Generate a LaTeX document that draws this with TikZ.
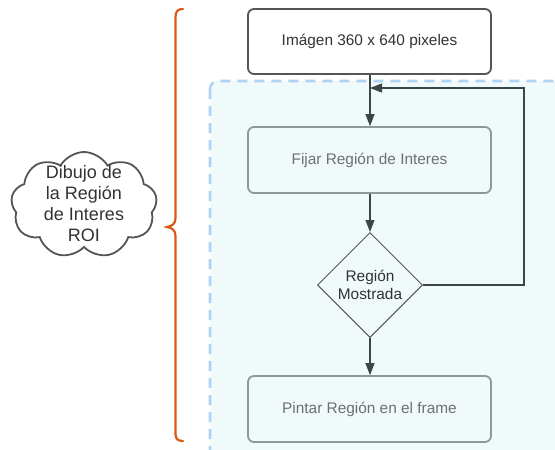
\documentclass[tikz,border=0pt]{standalone}
\usepackage{fontspec}
\setmainfont{Liberation Sans}
\usetikzlibrary{shapes.geometric,shapes.symbols,arrows.meta}
\definecolor{boxdark}{HTML}{555555}
\definecolor{boxgray}{HTML}{8E9894}
\definecolor{txtdark}{HTML}{333333}
\definecolor{txtgray}{HTML}{6E7070}
\definecolor{arrowc}{HTML}{3C4646}
\definecolor{zonefill}{HTML}{F1FAFA}
\definecolor{zoneline}{HTML}{B0D2F5}
\definecolor{bracec}{HTML}{D85A16}
\tikzset{
  every node/.style={font=\fontsize{15.4}{18}\selectfont, align=center},
  mainbox/.style={draw=boxdark, line width=1.8pt, rounded corners=6pt, fill=white,
    minimum width=243pt, minimum height=65pt, text=txtdark, inner sep=0pt},
  stepbox/.style={draw=boxgray, line width=1.8pt, rounded corners=6pt, fill=zonefill,
    minimum width=243pt, minimum height=66pt, text=txtgray, inner sep=0pt},
  decision/.style={diamond, draw=boxdark, line width=1pt, fill=zonefill, aspect=1,
    minimum width=105pt, minimum height=105pt, inner sep=0pt, text=txtdark},
  flow/.style={draw=arrowc, line width=1.2pt, -{Triangle[length=12pt,width=9pt]}},
}
\begin{document}
\begin{tikzpicture}[x=1pt,y=-1pt]
\useasboundingbox (0,0) rectangle (555,450);
% shaded zone holding the loop
\begin{scope}
  \clip (0,0) rectangle (555,450);
  \draw[draw=zoneline, fill=zonefill, line width=2.6pt, dash pattern=on 10pt off 7pt,
        rounded corners=8pt] (210,81) rectangle (580,470);
\end{scope}

% brace grouping the steps
\draw[bracec, line width=2.2pt, line cap=round]
  (183,9) .. controls (178,9) and (175.5,11) .. (175.5,17)
  -- (175.5,218) .. controls (175.5,224) and (172,226) .. (167,227)
  .. controls (172,228) and (175.5,230) .. (175.5,236)
  -- (175.5,434) .. controls (175.5,439) and (178,441) .. (183,441);

% cloud outline, with its label set on top
\node[cloud, cloud puffs=9, cloud puff arc=120, aspect=1.4, draw=boxdark, line width=1.8pt,
      fill=white, minimum width=146pt, minimum height=106pt, inner sep=0pt] (roi) at (84,205) {};
\node[font=\fontsize{18}{21}\selectfont, text=txtdark] (roitext) at (84,204)
  {Dibujo de\\la Región\\de Interes\\ROI};

% flowchart
\node[mainbox] (img) at (369.5,41.5) {Imágen 360 x 640 pixeles};
\node[stepbox] (fijar) at (369.5,160) {Fijar Región de Interes};
\node[decision] (dec) at (370,285) {Región\\Mostrada};
\node[stepbox] (pintar) at (369.5,409) {Pintar Región en el frame};

\coordinate (loopin) at (370,88);
\draw[flow] (img.south -| loopin) -- (fijar.north -| loopin);
\draw[flow] (fijar.south -| dec.north) -- (dec.north);
\draw[flow] (dec.south) -- (pintar.north -| dec.south);
\draw[flow] (dec.east) -- (524,285) -- (524,88) -- (loopin);
\end{tikzpicture}
\end{document}
